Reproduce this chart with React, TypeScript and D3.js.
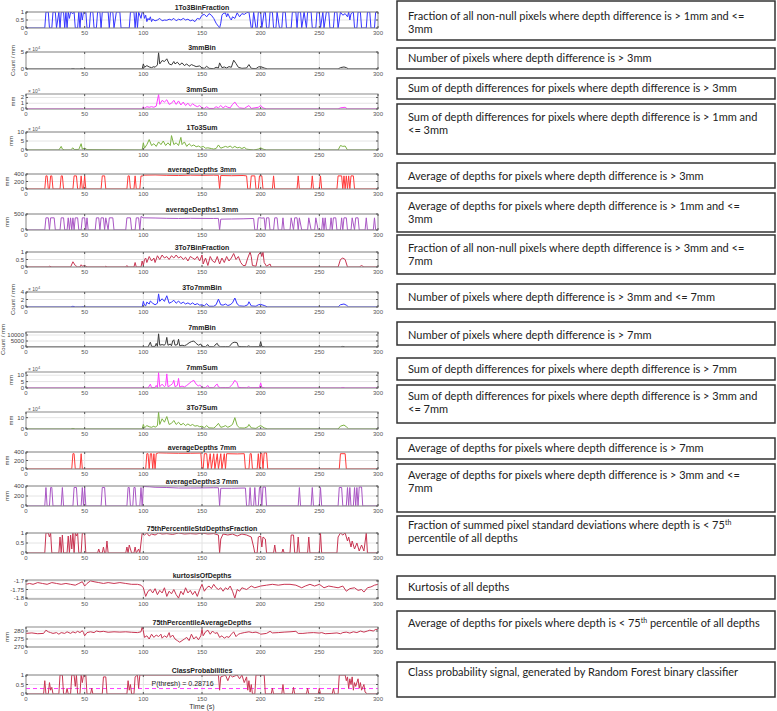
import React from "react";
import * as d3 from "d3";

type Pt = [number, number];

// time axis ticks (s)
const timeTicks = [0, 50, 100, 150, 200, 250, 300];

// ---- series (time, value) ----
const frac1To3: Pt[] = [[0,0],[16,0],[17,1],[19,1],[20,0],[22,0],[23,1],[25,1],[26,0],[28,1],[29,0],[30,1],[32,1],[33,0],[34,1],[35,0],[36,1],[37,0.6],[38,1],[40,0.9],[41,1],[42,0],[44,0],[45,1],[46,0],[47,1],[48,0.5],[49,1],[51,1],[52,0],[54,0],[55,1],[57,1],[58,0],[60,0],[61,1],[63,1],[64,0],[65,1],[70,1],[71,0],[72,1],[74,1],[75,0],[77,1],[80,1],[81,0],[88,0],[89,1],[92,1],[93,0],[94,1],[95,0],[96,1],[98,0.6],[99,1],[100,1],[101,0.6],[102,0.8],[103,0.4],[104,0.6],[105,0.5],[106,0.7],[107,0.4],[108,0.55],[110,0.45],[112,0.5],[114,0.6],[116,0.45],[118,0.5],[120,0.48],[122,0.55],[124,0.5],[126,0.6],[128,0.45],[130,0.55],[132,0.5],[134,0.6],[136,0.5],[138,0.55],[140,0.45],[142,0.5],[144,0.4],[146,0.6],[148,0.55],[150,0.8],[152,0.85],[154,0.7],[156,0.9],[158,0.8],[160,0.6],[162,0.3],[164,0.1],[165,0],[166,0.3],[167,0.8],[168,0.9],[170,0.95],[171,0.7],[172,0.9],[174,0.6],[175,0.5],[176,0.7],[178,0.6],[180,0.95],[182,0.7],[184,0.9],[186,0.85],[188,0.95],[190,1],[192,0],[193,0],[194,1],[196,0],[197,0],[198,1],[200,1],[201,0],[203,1],[204,1],[205,0],[207,0],[208,1],[210,1],[211,0],[213,0],[214,1],[216,0],[218,0],[219,1],[221,1],[222,0],[226,0],[227,1],[230,1],[231,0],[232,1],[234,1],[235,0],[237,1],[239,0],[240,1],[243,1],[244,0],[247,0],[248,1],[250,1],[251,0],[253,1],[254,0],[256,1],[258,1],[259,0],[262,0],[263,1],[265,1],[266,0],[268,1],[270,0.8],[272,0.9],[274,0.7],[275,1],[276,0.5],[277,0.9],[279,1],[280,0],[282,0],[283,1],[285,1],[286,0],[290,0],[291,1],[293,1],[294,0],[297,0],[298,1],[300,1]];

const bin3mm: Pt[] = [[0,0],[38,0],[40,0.1],[42,0],[46,0],[47,0.15],[49,0],[99,0],[100,1.5],[101,0.5],[103,1],[105,0.6],[107,0.4],[109,0.7],[110,0.5],[112,1.2],[113,4.8],[114,1.5],[116,2.5],[118,2.2],[120,3],[122,1.5],[124,1.2],[126,2.2],[127,1.5],[129,2],[131,1.2],[133,1.8],[135,1],[137,1.5],[139,0.8],[141,1.3],[143,1],[145,0.7],[148,0.9],[150,0.3],[152,0.2],[154,0.8],[156,0.2],[160,0.1],[162,0.5],[164,0.3],[165,1.8],[167,0.4],[169,0.6],[171,0.3],[173,0.7],[175,0.5],[177,2.6],[179,1.6],[181,0.5],[184,0.2],[188,0.3],[190,1.3],[192,0.2],[196,0.1],[198,0.6],[200,0.7],[203,0.3],[206,0],[266,0],[268,0.4],[271,0.6],[273,0.4],[275,0],[300,0]];

const sum3mm: Pt[] = [[0,0],[46,0],[47,0.05],[49,0],[99,0],[100,0.4],[101,0.1],[103,0.4],[105,0.3],[107,0.4],[109,0.3],[111,0.5],[113,2.5],[114,0.8],[116,1.5],[118,1.2],[120,1.6],[122,0.8],[124,1],[126,1.5],[128,0.8],[130,1.4],[132,0.7],[134,1.2],[136,0.6],[138,1],[140,0.5],[142,0.9],[144,0.6],[146,0.4],[148,0.6],[150,0.2],[152,0.1],[154,0.4],[156,0.1],[160,0.1],[162,0.4],[164,0.2],[166,0.6],[168,0.2],[170,0.5],[172,0.3],[174,0.2],[176,0.8],[178,1.2],[180,0.6],[182,0.2],[186,0.1],[190,0.6],[192,0.1],[198,0.3],[200,0.6],[202,0.2],[205,0],[266,0],[268,0.2],[272,0.3],[274,0],[300,0]];

const sum1To3: Pt[] = [[0,0],[28,0],[30,2],[31,0.5],[33,0],[38,0],[40,1.2],[41,0.3],[45,0.3],[47,3.5],[48,0.5],[50,1],[52,0.2],[99,0],[100,4],[101,1],[103,3],[105,5.8],[107,2.5],[109,3.5],[111,2],[113,4.5],[115,3],[117,5],[119,2.5],[121,4],[123,2.5],[124,8],[126,3],[128,4],[130,2.5],[132,7],[133,3],[135,4.5],[137,2],[139,3.5],[141,2.2],[143,2.8],[145,1.8],[147,2.2],[149,1.5],[151,2],[153,1],[155,1.2],[158,0.8],[160,0.5],[162,0.8],[164,2.8],[166,1],[168,1.5],[170,2],[172,1.5],[174,2.2],[176,1.2],[178,2],[180,1.2],[182,1.5],[184,0.8],[186,1.5],[188,0.5],[190,0.3],[194,0],[198,0.5],[200,1.2],[202,0.5],[205,0],[266,0],[268,2.5],[270,2],[272,2.2],[274,0],[300,0]];

const avgDepths3mm: Pt[] = [[0,0],[16,0],[17,350],[18,350],[19,0],[20,0],[21,350],[22,350],[23,0],[29,0],[30,350],[31,350],[32,0],[40,0],[41,350],[43,350],[44,0],[46,0],[47,350],[48,0],[49,0],[50,350],[51,0],[64,0],[65,350],[67,350],[68,0],[86,0],[87,350],[88,350],[89,0],[92,0],[93,350],[94,0],[97,0],[98,350],[99,340],[100,370],[110,375],[120,365],[130,360],[140,370],[150,365],[160,370],[164,365],[165,0],[166,360],[175,355],[185,360],[188,350],[189,0],[191,0],[192,350],[195,350],[196,0],[198,0],[199,350],[201,350],[202,0],[210,0],[211,350],[212,0],[231,0],[232,350],[233,0],[243,0],[244,350],[245,0],[250,0],[251,350],[252,0],[265,0],[266,350],[269,350],[270,0],[271,350],[272,0],[273,350],[274,0],[275,350],[276,0],[277,350],[279,350],[280,0],[300,0]];

const avgDepths1To3: Pt[] = [[0,0],[16,0],[17,380],[19,380],[20,0],[21,380],[24,380],[25,0],[29,0],[30,380],[32,380],[33,0],[35,0],[36,380],[37,0],[38,380],[39,0],[40,380],[41,0],[42,380],[44,380],[45,0],[47,0],[48,380],[50,380],[51,0],[52,380],[53,0],[59,0],[60,380],[62,380],[63,0],[64,380],[66,380],[67,0],[68,380],[70,0],[71,380],[74,380],[75,0],[85,0],[86,380],[89,380],[90,0],[93,0],[94,380],[96,380],[97,0],[98,420],[100,380],[110,375],[120,365],[130,360],[140,365],[150,362],[160,360],[164,362],[165,0],[166,340],[175,345],[185,350],[194,360],[195,0],[197,0],[198,380],[200,380],[201,370],[203,380],[204,0],[205,380],[207,380],[208,0],[211,0],[212,380],[214,380],[215,0],[218,0],[219,380],[220,0],[225,0],[226,380],[228,0],[229,380],[231,380],[232,0],[233,380],[235,0],[240,0],[241,380],[243,0],[246,0],[247,380],[249,0],[252,0],[253,380],[254,0],[255,380],[256,0],[259,0],[260,380],[261,0],[262,380],[264,380],[265,0],[268,0],[269,380],[270,0],[271,380],[273,380],[274,0],[277,0],[278,380],[280,0],[281,380],[283,380],[284,0],[289,0],[290,380],[291,0],[296,0],[297,380],[298,0],[300,0]];

const frac3To7: Pt[] = [[0,0],[19,0],[20,0.05],[22,0],[38,0],[40,0.35],[42,0.1],[44,0],[46,0],[47,0.15],[48,0.05],[50,0.1],[52,0],[67,0],[68,0.05],[69,0],[85,0],[86,0.1],[87,0],[92,0],[93,0.3],[94,0],[98,0],[99,0.4],[100,0.1],[101,0.5],[102,0.6],[103,0.3],[105,0.7],[107,0.4],[109,0.6],[110,0.3],[112,0.75],[114,0.5],[116,0.8],[118,0.6],[120,0.7],[122,0.5],[124,0.75],[126,0.6],[128,0.8],[130,0.6],[132,0.7],[134,0.5],[136,0.65],[138,0.4],[140,0.7],[142,0.6],[144,0.5],[146,0.7],[148,0.4],[150,0.8],[151,0.2],[153,0.6],[155,0.1],[157,0.7],[159,0.4],[161,0.3],[163,0.7],[165,0.2],[167,0.6],[169,0.3],[171,0.7],[173,0.4],[175,0.6],[177,0.9],[179,0.5],[181,0.7],[183,0.3],[185,0.1],[187,0.1],[189,0.6],[191,1],[192,0.7],[193,0.1],[196,0.05],[198,0.8],[200,1],[201,0.7],[202,1],[203,0.3],[205,0.05],[208,0.2],[209,0],[266,0],[268,0.5],[270,0.6],[272,0.5],[274,0],[284,0],[286,0.1],[288,0],[300,0]];

const bin3To7: Pt[] = [[0,0],[38,0],[40,0.2],[42,0],[47,0],[48,0.1],[50,0],[99,0],[100,1.5],[101,0.5],[102,0.3],[103,1.3],[105,0.8],[106,1.6],[108,1],[110,0.6],[112,1],[113,3.5],[114,1.5],[116,2.2],[118,1.5],[120,3],[122,1],[124,1.3],[126,1.8],[128,1],[130,1.6],[132,0.9],[134,1.3],[136,0.8],[138,1.1],[140,0.7],[142,1.1],[144,0.6],[146,0.9],[148,0.5],[150,0.6],[152,0.3],[154,0.9],[156,0.2],[160,0.2],[162,0.6],[164,2.1],[166,0.6],[168,0.5],[170,0.8],[172,0.4],[174,0.6],[176,1.1],[178,2.4],[180,0.8],[182,0.3],[186,0.2],[189,0.6],[190,1.4],[192,0.3],[196,0.2],[198,0.6],[200,0.7],[203,0.4],[206,0],[266,0],[268,0.6],[271,0.8],[273,0.5],[275,0],[300,0]];

const bin7mm: Pt[] = [[0,0],[104,0],[106,4000],[107,500],[110,500],[111,3000],[112,500],[113,11000],[114,1500],[116,2000],[118,1500],[119,3000],[120,8000],[121,1500],[123,2500],[124,1000],[125,5000],[126,6000],[127,1500],[129,2000],[130,6500],[131,1000],[133,1500],[135,1000],[137,2000],[139,3500],[141,4500],[143,5000],[145,3000],[147,1500],[149,2500],[150,500],[153,300],[155,2000],[156,300],[160,200],[162,2500],[163,3000],[164,1000],[166,200],[170,300],[173,200],[176,3500],[178,4000],[180,3500],[181,500],[184,300],[188,200],[190,1000],[191,200],[199,300],[200,4500],[201,500],[204,0],[268,0],[270,500],[272,0],[300,0]];

const sum7mm: Pt[] = [[0,0],[104,0],[106,3],[107,0.3],[110,0.3],[111,2],[112,0.3],[113,12],[114,1],[116,3],[118,1],[119,2],[120,11],[121,1],[123,2],[125,3.5],[126,6],[127,1],[129,2],[130,7.5],[131,0.8],[133,1.5],[135,0.8],[137,2],[139,3.5],[141,5],[143,6],[145,3],[147,1.5],[148,2.5],[150,0.5],[153,0.3],[155,2],[156,0.3],[160,0.2],[162,2.5],[163,3],[164,0.8],[166,0.2],[170,0.3],[173,0.2],[176,3],[178,6],[180,4],[181,0.5],[184,0.3],[188,0.2],[190,1],[191,0.2],[199,0.3],[200,4],[201,0.5],[204,0],[268,0],[270,0.4],[272,0],[300,0]];

const sum3To7: Pt[] = [[0,0],[38,0],[40,0.5],[42,0],[99,0],[100,4],[101,1],[103,3],[105,2],[107,1.5],[109,2.5],[110,1.5],[112,3],[113,15],[114,4],[116,9],[118,6],[120,11],[122,4],[124,5],[126,7.5],[128,4],[130,6],[132,3.5],[134,5],[136,3],[138,4.5],[140,3],[142,4],[144,2.5],[146,3],[148,2],[150,2.5],[152,1],[154,3],[156,1],[160,0.8],[162,2.5],[164,5],[166,1.5],[168,2],[170,3],[172,1.5],[174,2.5],[176,4],[178,10],[180,3],[182,1],[186,0.8],[189,2],[190,4],[192,1],[196,0.5],[198,2],[200,3],[203,1],[206,0],[266,0],[268,2.5],[271,3.5],[273,2],[275,0],[300,0]];

const avgDepths7mm: Pt[] = [[0,0],[39,0],[40,360],[41,360],[42,0],[46,0],[47,360],[48,0],[102,0],[103,360],[104,360],[105,0],[106,360],[107,360],[108,0],[109,360],[110,0],[111,360],[113,380],[120,375],[130,370],[140,370],[149,375],[150,0],[151,0],[152,360],[154,360],[155,0],[157,360],[158,0],[160,360],[161,0],[163,360],[164,0],[166,360],[167,0],[169,360],[170,0],[171,360],[180,355],[186,360],[187,0],[190,0],[191,360],[192,360],[193,0],[197,0],[198,360],[199,0],[200,360],[201,370],[202,0],[203,380],[205,380],[206,0],[267,0],[268,360],[272,360],[273,0],[300,0]];

const avgDepths3To7: Pt[] = [[0,0],[16,0],[17,370],[18,0],[20,0],[21,370],[22,370],[23,0],[30,0],[31,370],[32,0],[40,0],[41,370],[43,370],[44,0],[47,0],[48,370],[49,0],[50,370],[51,0],[64,0],[65,370],[67,370],[68,0],[86,0],[87,370],[88,370],[89,0],[91,0],[92,370],[93,370],[94,0],[97,0],[98,370],[99,0],[100,390],[105,385],[110,375],[120,370],[130,360],[140,360],[150,362],[160,365],[164,365],[165,0],[166,355],[175,355],[187,360],[188,0],[190,0],[191,370],[192,0],[194,0],[195,370],[196,0],[198,0],[199,370],[200,380],[201,0],[202,380],[204,380],[205,0],[232,0],[233,370],[234,0],[243,0],[244,370],[245,0],[250,0],[251,370],[252,0],[266,0],[267,370],[269,370],[270,0],[273,0],[274,370],[275,0],[276,370],[277,0],[279,0],[280,370],[281,0],[282,370],[283,0],[284,380],[286,380],[287,0],[300,0]];

const frac75Std: Pt[] = [[0,0],[16,0],[17,1],[19,1],[20,0.8],[21,1],[22,0],[28,0],[29,0.8],[30,0],[31,0.9],[32,0],[35,0],[36,0.85],[37,0],[38,0.9],[39,0.2],[40,1],[41,0],[42,1],[43,0.85],[44,1],[45,0],[47,0],[48,1],[50,1],[51,0],[61,0],[62,0.2],[63,0],[65,0],[66,0.3],[67,0],[68,0],[69,0.6],[70,0],[85,0],[86,0.3],[87,0],[88,0.4],[89,0.2],[90,0],[92,0],[93,0.3],[94,0],[96,0.2],[97,0],[99,1],[101,0.9],[103,1],[105,0.85],[107,0.95],[110,0.9],[113,1],[116,0.95],[120,0.97],[125,0.93],[130,1],[135,0.95],[140,0.97],[145,0.95],[150,1],[155,0.95],[160,0.97],[164,0.9],[165,0],[166,0.7],[168,0.95],[172,0.9],[176,0.95],[180,0.85],[184,0.95],[188,0.9],[192,0.8],[194,0.3],[195,0],[197,0],[198,0.8],[200,0.85],[201,0.3],[202,0.8],[204,0.7],[205,0],[211,0],[212,0.4],[213,0],[218,0],[219,0.2],[220,0],[225,0],[226,0.9],[228,0.9],[229,0],[231,0],[232,0.8],[233,0],[240,0],[241,0.8],[242,0],[250,0],[251,1],[252,0],[265,0],[266,0.8],[268,1],[270,0.9],[272,1],[274,0.6],[275,0.8],[277,0.3],[278,0.6],[280,0.2],[282,0.5],[284,0.1],[286,0.4],[288,0.1],[290,1],[291,0],[300,0]];

const kurtosis: Pt[] = [[0,-1.72],[3,-1.715],[6,-1.72],[10,-1.71],[14,-1.715],[18,-1.72],[22,-1.71],[26,-1.715],[30,-1.72],[34,-1.715],[38,-1.72],[42,-1.725],[45,-1.715],[48,-1.705],[50,-1.73],[52,-1.715],[55,-1.7],[58,-1.705],[62,-1.71],[66,-1.715],[70,-1.71],[75,-1.715],[80,-1.71],[85,-1.715],[90,-1.72],[95,-1.72],[98,-1.725],[100,-1.74],[102,-1.79],[104,-1.76],[106,-1.75],[108,-1.77],[110,-1.745],[112,-1.78],[114,-1.755],[116,-1.77],[118,-1.74],[120,-1.79],[122,-1.76],[124,-1.775],[126,-1.75],[128,-1.78],[130,-1.8],[132,-1.76],[134,-1.78],[136,-1.74],[138,-1.77],[140,-1.755],[142,-1.78],[144,-1.76],[146,-1.79],[148,-1.75],[150,-1.72],[152,-1.76],[154,-1.74],[156,-1.73],[158,-1.745],[160,-1.72],[162,-1.74],[164,-1.75],[166,-1.74],[168,-1.76],[170,-1.74],[172,-1.75],[174,-1.73],[176,-1.76],[178,-1.8],[180,-1.75],[182,-1.76],[184,-1.74],[186,-1.745],[188,-1.75],[190,-1.74],[192,-1.73],[195,-1.74],[200,-1.73],[205,-1.725],[210,-1.72],[215,-1.725],[220,-1.72],[225,-1.72],[230,-1.725],[235,-1.74],[238,-1.73],[242,-1.72],[246,-1.73],[250,-1.72],[254,-1.74],[258,-1.73],[262,-1.735],[266,-1.74],[270,-1.73],[273,-1.76],[276,-1.745],[280,-1.74],[283,-1.755],[286,-1.75],[288,-1.765],[291,-1.74],[294,-1.735],[297,-1.725],[300,-1.72]];

const avgDepths75: Pt[] = [[0,278.5],[5,278.8],[10,278.3],[15,278.5],[17,280.5],[19,279.5],[21,279],[23,278.5],[26,279],[28,278],[30,279],[33,278.5],[35,279.5],[38,278.5],[40,279.5],[42,278.8],[44,279.8],[46,279],[48,280.2],[49,279],[50,277],[52,279],[55,279.5],[58,279],[60,280],[63,279.5],[66,279.8],[70,279.2],[75,279.5],[80,279.3],[85,279.5],[90,279.2],[95,279],[98,279.5],[99,282.5],[100,280],[101,276],[103,277],[105,275],[107,278],[109,276],[111,277.5],[113,276.5],[115,278],[116,275.5],[118,277],[120,276],[122,279],[123,276],[125,277.5],[127,275],[129,274],[131,273],[133,274],[135,275],[137,276],[139,274],[141,278],[143,275],[145,276.5],[147,274.5],[149,277],[150,281],[151,277],[153,279.5],[155,280.5],[157,278],[159,280],[161,278.5],[163,279],[165,276],[167,277],[169,275.5],[171,276.5],[173,276],[175,278],[177,279.5],[179,276.5],[181,278],[183,278.5],[186,279],[190,279.5],[193,279],[196,279.3],[199,278.5],[200,278],[205,278.5],[208,279.8],[210,278.8],[215,279],[220,279.3],[225,279.5],[230,279.8],[232,278.5],[236,278.5],[240,278.8],[245,279],[250,278.7],[252,279],[255,278.3],[260,278.5],[265,278.8],[268,278.3],[270,279],[273,279.3],[276,278.7],[279,279.5],[282,279],[285,280],[288,279.3],[291,280],[293,280.5],[296,280],[298,281],[300,281]];

const classProb: Pt[] = [[0,0],[15,0],[16,0.7],[17,0],[19,0],[20,0.6],[21,0.2],[22,0.35],[23,0],[28,0],[29,1],[31,1],[32,0],[34,0],[35,0.3],[36,0],[38,0],[39,1],[41,1],[42,0.4],[43,1],[44,0],[46,0],[47,1],[48,0.6],[49,1],[51,1],[52,0],[55,0],[56,0.3],[57,0],[65,0],[66,0.9],[68,0.9],[69,0],[86,0],[87,0.7],[88,0.2],[89,0.5],[90,0],[92,0],[93,0.9],[95,1],[96,0.3],[97,1],[100,1],[164,1],[165,0.2],[166,0.9],[168,0.95],[170,1],[172,0.7],[174,1],[176,0.9],[180,1],[182,0.8],[184,1],[186,0.6],[188,0.9],[189,0.2],[190,0.7],[191,0.1],[192,0.5],[193,0],[195,0],[196,1],[203,1],[204,0],[209,0],[210,0.3],[211,0],[218,0],[219,0.5],[220,0],[227,0],[228,0.35],[229,0],[239,0],[240,0.3],[241,0],[249,0],[250,0.3],[251,0],[261,0],[262,0.3],[263,0],[266,0],[267,1],[272,1],[273,0.7],[274,0.9],[275,0.3],[276,0.8],[277,0.5],[278,0.9],[279,0.2],[280,0.6],[281,0.4],[283,0.8],[284,0.3],[285,0.6],[286,0.2],[288,0.5],[289,0.1],[291,0],[300,0]];

const threshold = 0.28716;

// ---- description boxes (right column) ----
const descriptions: string[][] = [
  ["Fraction of all non-null pixels where depth difference is > 1mm and <=", "3mm"],
  ["Number of pixels where depth difference is > 3mm"],
  ["Sum of depth differences for pixels where depth difference is > 3mm"],
  ["Sum of depth differences for pixels where depth difference is > 1mm and", "<= 3mm"],
  ["Average of depths for pixels where depth difference is > 3mm"],
  ["Average of depths for pixels where depth difference is > 1mm and <=", "3mm"],
  ["Fraction of all non-null pixels where depth difference is > 3mm and <=", "7mm"],
  ["Number of pixels where depth difference is > 3mm and <= 7mm"],
  ["Number of pixels where depth difference is > 7mm"],
  ["Sum of depth differences for pixels where depth difference is > 7mm"],
  ["Sum of depth differences for pixels where depth difference is > 3mm and", "<= 7mm"],
  ["Average of depths for pixels where depth difference is > 7mm"],
  ["Average of depths for pixels where depth difference is > 3mm and <=", "7mm"],
  ["Fraction of summed pixel standard deviations where depth is < 75^th", "percentile of all depths"],
  ["Kurtosis of all depths"],
  ["Average of depths for pixels where depth is < 75^th percentile of all depths"],
  ["Class probability signal, generated by Random Forest binary classifier"],
];
// box top / bottom and first baseline
const boxLayout = [
  [1, 40, 20], [48, 69, 62], [78, 99, 92], [104, 154, 121], [163, 188, 180],
  [193, 232, 210], [235, 274, 252], [284, 309, 301], [322, 345, 339], [358, 380, 373],
  [385, 423, 400], [438, 459, 452], [464, 512, 479], [516, 555, 529], [576, 599, 591],
  [611, 649, 627], [662, 697, 676],
];

const BLUE = "#3535ff";
const DARK = "#3a3a3a";
const MAGENTA = "#ff3cff";
const GREEN = "#7db343";
const RED = "#ff3a3a";
const PURPLE = "#a957c4";
const CRIMSON = "#c83552";

type Panel = {
  title: string; data: Pt[]; color: string; domain: [number, number]; ticks: number[];
  top: number; bottom: number; exp?: number; ylabel?: string; ylabelX?: number;
};

const panels: Panel[] = [
  { title: "1To3BinFraction", data: frac1To3, color: BLUE, domain: [0, 1], ticks: [0, 0.5, 1], top: 12, bottom: 28 },
  { title: "3mmBin", data: bin3mm, color: DARK, domain: [0, 5], ticks: [0, 5], top: 52, bottom: 69, exp: 4, ylabel: "Count / mm", ylabelX: 15 },
  { title: "3mmSum", data: sum3mm, color: MAGENTA, domain: [0, 2.6], ticks: [0, 1, 2], top: 94, bottom: 109, exp: 5, ylabel: "mm", ylabelX: 15 },
  { title: "1To3Sum", data: sum1To3, color: GREEN, domain: [0, 10], ticks: [0, 5, 10], top: 132, bottom: 150, exp: 4, ylabel: "mm", ylabelX: 13 },
  { title: "averageDepths 3mm", data: avgDepths3mm, color: RED, domain: [0, 400], ticks: [0, 200, 400], top: 174, bottom: 189, ylabel: "mm", ylabelX: 9 },
  { title: "averageDepths1 3mm", data: avgDepths1To3, color: PURPLE, domain: [0, 500], ticks: [0, 500], top: 214, bottom: 230, ylabel: "mm", ylabelX: 9 },
  { title: "3To7BinFraction", data: frac3To7, color: CRIMSON, domain: [0, 1], ticks: [0, 0.5, 1], top: 252, bottom: 267 },
  { title: "3To7mmBin", data: bin3To7, color: BLUE, domain: [0, 4], ticks: [0, 2, 4], top: 292, bottom: 307, exp: 4, ylabel: "Count / mm", ylabelX: 15 },
  { title: "7mmBin", data: bin7mm, color: DARK, domain: [0, 12500], ticks: [0, 5000, 10000], top: 332, bottom: 347, ylabel: "Count / mm", ylabelX: 5 },
  { title: "7mmSum", data: sum7mm, color: MAGENTA, domain: [0, 12.5], ticks: [0, 5, 10], top: 372, bottom: 388, exp: 4, ylabel: "mm", ylabelX: 13 },
  { title: "3To7Sum", data: sum3To7, color: GREEN, domain: [0, 15], ticks: [0, 10], top: 412, bottom: 429, exp: 4, ylabel: "mm", ylabelX: 13 },
  { title: "averageDepths 7mm", data: avgDepths7mm, color: RED, domain: [0, 400], ticks: [0, 200, 400], top: 452, bottom: 469, ylabel: "mm", ylabelX: 9 },
  { title: "averageDepths3 7mm", data: avgDepths3To7, color: PURPLE, domain: [0, 400], ticks: [0, 200, 400], top: 486, bottom: 506, ylabel: "mm", ylabelX: 9 },
  { title: "75thPercentileStdDepthsFraction", data: frac75Std, color: CRIMSON, domain: [0, 1], ticks: [0, 0.5, 1], top: 533, bottom: 553 },
  { title: "kurtosisOfDepths", data: kurtosis, color: CRIMSON, domain: [-1.805, -1.695], ticks: [-1.8, -1.75, -1.7], top: 580, bottom: 599 },
  { title: "75thPercentileAverageDepths", data: avgDepths75, color: CRIMSON, domain: [270, 282.5], ticks: [270, 275, 280], top: 627, bottom: 647, ylabel: "mm", ylabelX: 9 },
  { title: "ClassProbabilities", data: classProb, color: CRIMSON, domain: [0, 1], ticks: [0, 0.5, 1], top: 675, bottom: 694 },
];

const X0 = 26;
const X1 = 378;
const FONT = "'Liberation Sans', Arial, sans-serif";

function PanelChart({ p, idx }: { p: Panel; idx: number }) {
  const x = d3.scaleLinear().domain([0, 300]).range([X0, X1]);
  const y = d3.scaleLinear().domain(p.domain).range([p.bottom, p.top]);
  const line = d3.line<Pt>().x((d) => x(d[0])).y((d) => y(d[1]));
  const clipId = `clip-${idx}`;
  const isLast = idx === panels.length - 1;
  return (
    <g>
      <clipPath id={clipId}>
        <rect x={X0} y={p.top} width={X1 - X0} height={p.bottom - p.top} />
      </clipPath>
      {timeTicks.slice(1, -1).map((t) => (
        <line key={"gx" + t} x1={x(t)} x2={x(t)} y1={p.top} y2={p.bottom} stroke="#e4e4e4" />
      ))}
      {p.ticks.map((t) => (
        <line key={"gy" + t} x1={X0} x2={X1} y1={y(t)} y2={y(t)} stroke="#e4e4e4" />
      ))}
      {isLast && (
        <line x1={X0} x2={X1} y1={y(threshold)} y2={y(threshold)} stroke={MAGENTA} strokeDasharray="4,3" strokeWidth={1} />
      )}
      <path d={line(p.data) ?? ""} fill="none" stroke={p.color} strokeWidth={1} clipPath={`url(#${clipId})`} />
      <rect x={X0} y={p.top} width={X1 - X0} height={p.bottom - p.top} fill="none" stroke="#8a8a8a" strokeWidth={1} />
      {timeTicks.map((t) => (
        <g key={"tx" + t}>
          <line x1={x(t)} x2={x(t)} y1={p.bottom} y2={p.bottom - 2} stroke="#555" />
          <line x1={x(t)} x2={x(t)} y1={p.top} y2={p.top + 2} stroke="#555" />
          <text x={x(t)} y={p.bottom + 7} textAnchor="middle" fontSize={6} fill="#555" fontFamily={FONT}>{t}</text>
        </g>
      ))}
      {p.ticks.map((t) => (
        <g key={"ty" + t}>
          <line x1={X0} x2={X0 + 2} y1={y(t)} y2={y(t)} stroke="#555" />
          <line x1={X1} x2={X1 - 2} y1={y(t)} y2={y(t)} stroke="#555" />
          <text x={X0 - 2} y={y(t) + 2} textAnchor="end" fontSize={6} fill="#444" fontFamily={FONT}>{t}</text>
        </g>
      ))}
      {p.exp !== undefined && (
        <text x={X0 + 2} y={p.top - 1} fontSize={5} fill="#555" fontFamily={FONT}>
          × 10<tspan dy={-2} fontSize={4}>{p.exp}</tspan>
        </text>
      )}
      {p.ylabel && (
        <text transform={`translate(${p.ylabelX},${(p.top + p.bottom) / 2}) rotate(-90)`} textAnchor="middle" fontSize={6} fill="#444" fontFamily={FONT}>{p.ylabel}</text>
      )}
      <text x={(X0 + X1) / 2} y={p.top - 2} textAnchor="middle" fontSize={7} fontWeight="bold" fill="#222" fontFamily={FONT}>{p.title}</text>
      {isLast && (
        <>
          <text x={x(107)} y={y(threshold) - 3} fontSize={7} fill="#222" fontFamily={FONT}>P(thresh) = {threshold}</text>
          <text x={(X0 + X1) / 2} y={p.bottom + 15} textAnchor="middle" fontSize={7} fill="#333" fontFamily={FONT}>Time (s)</text>
        </>
      )}
    </g>
  );
}

function DescLine({ text, x, y }: { text: string; x: number; y: number }) {
  const parts = text.split("^th");
  return (
    <text x={x} y={y} fontSize={11} fill="#222" fontFamily="Lato, 'Open Sans', sans-serif">
      {parts.map((s, i) => (
        <React.Fragment key={i}>
          {i > 0 && <tspan dy={-4} fontSize={7}>th</tspan>}
          {i > 0 ? <tspan dy={4}>{s}</tspan> : s}
        </React.Fragment>
      ))}
    </text>
  );
}

export default function App() {
  return (
    <div>
      <style>{`body{margin:0;background:#fff}`}</style>
      <svg width={777} height={711} viewBox="0 0 777 711">
        <rect width={777} height={711} fill="#fff" />
        {panels.map((p, i) => (
          <PanelChart key={p.title} p={p} idx={i} />
        ))}
        {descriptions.map((lines, i) => {
          const [top, bottom, base] = boxLayout[i];
          return (
            <g key={"d" + i}>
              <rect x={397} y={top} width={378} height={bottom - top} fill="#fff" stroke="#333" strokeWidth={1.5} />
              {lines.map((ln, j) => (
                <DescLine key={j} text={ln} x={408} y={base + j * 13} />
              ))}
            </g>
          );
        })}
      </svg>
    </div>
  );
}
